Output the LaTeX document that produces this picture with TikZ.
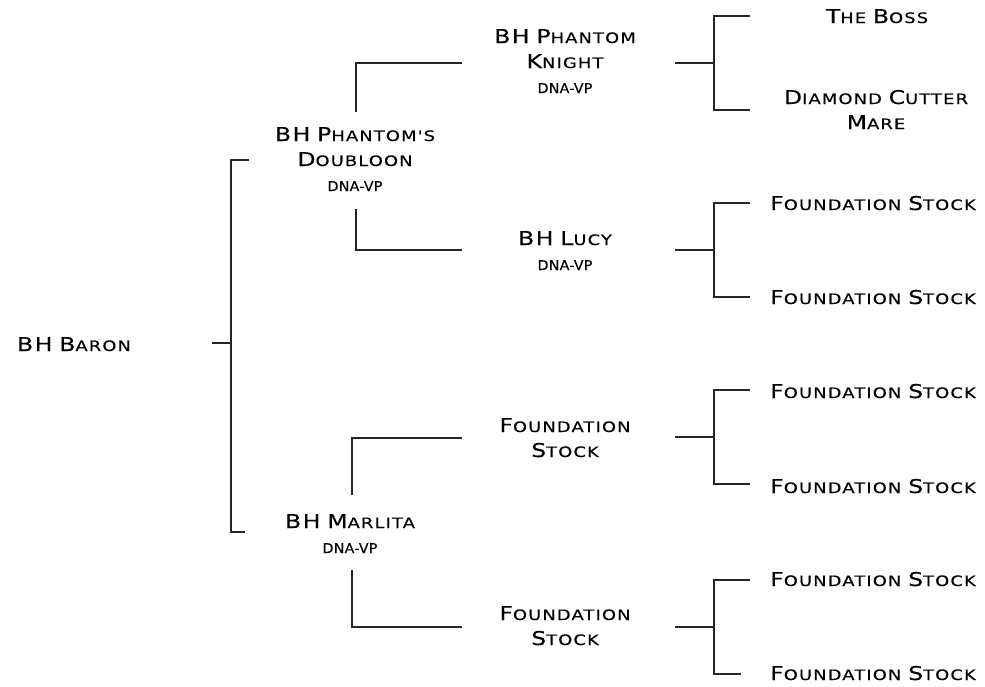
\documentclass[tikz,border=0pt]{standalone}
\usepackage{fontspec}
\newfontfamily\cop[FakeStretch=1.24,LetterSpace=8,FakeBold=0.2]{DejaVu Sans}
\newfontfamily\copn[FakeStretch=1.05,LetterSpace=2,FakeBold=0.2]{DejaVu Sans}
\newcommand\Cp[1]{{\fontsize{19}{25}\selectfont #1}}
\newcommand\Dn{{\copn\fontsize{13.5}{25}\selectfont DNA-VP}}
\newcommand\ML[1]{\begin{tabular}[t]{@{}c@{}}#1\end{tabular}}
\tikzset{
  lbl/.style={anchor=base, inner sep=0pt, font=\cop\fontsize{14.4}{25}\selectfont},
  br/.style={line width=1.8pt, draw=black!85}
}
\begin{document}
\begin{tikzpicture}[x=1pt,y=-1pt]
\useasboundingbox (0,0) rectangle (985,686);
% labels
\node[lbl] (baron) at (74,351) {\Cp{B}\Cp{H} \Cp{B}ARON};
\node[lbl] (doub) at (355,141) {\ML{\Cp{B}\Cp{H} \Cp{P}HANTOM'S\\\Cp{D}OUBLOON\\\Dn}};
\node[lbl] (marl) at (350,528) {\ML{\Cp{B}\Cp{H} \Cp{M}ARLITA\\\Dn}};
\node[lbl] (knight) at (565,43) {\ML{\Cp{B}\Cp{H} \Cp{P}HANTOM\\\Cp{K}NIGHT\\\Dn}};
\node[lbl] (lucy) at (565,245) {\ML{\Cp{B}\Cp{H} \Cp{L}UCY\\\Dn}};
\node[lbl] (fsa) at (565,432) {\ML{\Cp{F}OUNDATION\\\Cp{S}TOCK}};
\node[lbl] (fsb) at (565,620) {\ML{\Cp{F}OUNDATION\\\Cp{S}TOCK}};
\node[lbl] (boss) at (877,23) {\Cp{T}HE \Cp{B}OSS};
\node[lbl] (dcm) at (876,104) {\ML{\Cp{D}IAMOND \Cp{C}UTTER\\\Cp{M}ARE}};
\node[lbl] (fs1) at (873,210) {\Cp{F}OUNDATION \Cp{S}TOCK};
\node[lbl] (fs2) at (873,304) {\Cp{F}OUNDATION \Cp{S}TOCK};
\node[lbl] (fs3) at (873,398) {\Cp{F}OUNDATION \Cp{S}TOCK};
\node[lbl] (fs4) at (873,493) {\Cp{F}OUNDATION \Cp{S}TOCK};
\node[lbl] (fs5) at (873,586) {\Cp{F}OUNDATION \Cp{S}TOCK};
\node[lbl] (fs6) at (873,680) {\Cp{F}OUNDATION \Cp{S}TOCK};
% bracket coordinates
\coordinate (b0) at (212,343);
\coordinate (bt) at (249,160);
\coordinate (bb) at (245,532);
\coordinate (d1) at (356,112); \coordinate (d2) at (462,63);
\coordinate (d3) at (356,209); \coordinate (d4) at (462,250);
\coordinate (m1) at (352,495); \coordinate (m2) at (462,438);
\coordinate (m3) at (352,570); \coordinate (m4) at (462,627);
% connectors
\draw[br] (b0) -- ++(19,0);
\draw[br] (bt) -- ++(-18,0) |- (bb);
\draw[br] (d1) |- (d2);
\draw[br] (d3) |- (d4);
\draw[br] (m1) |- (m2);
\draw[br] (m3) |- (m4);
\foreach \y/\e in {63/750,250/750,437/750,627/741}{
  \coordinate (s\y) at (675,\y);
  \draw[br] (s\y) -- ++(39,0);
  \draw[br] (750,\y-47) -- (714,\y-47) -- (714,\y+47) -- (\e,\y+47);
}
\end{tikzpicture}
\end{document}
